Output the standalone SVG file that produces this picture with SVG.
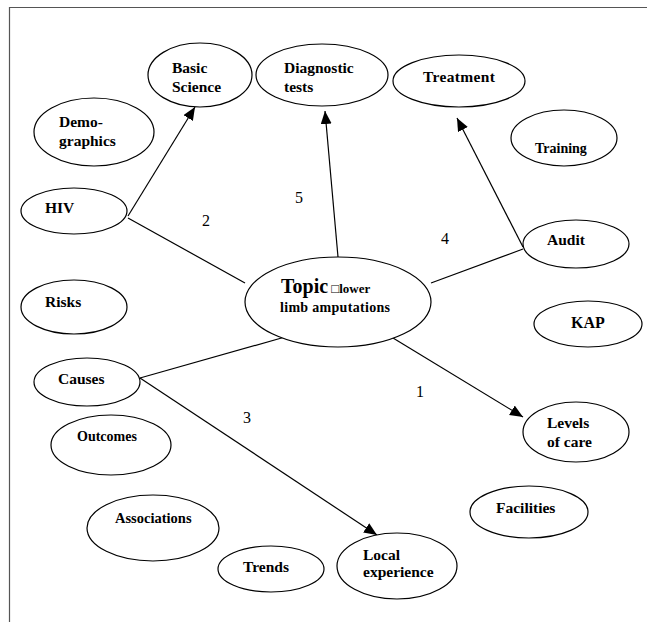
<svg xmlns="http://www.w3.org/2000/svg" width="647" height="622" viewBox="0 0 647 622">
<style>
.n ellipse{fill:#fff;stroke:#000;stroke-width:1.2}
.n text{font-family:"Liberation Serif","Times New Roman",serif;font-weight:bold;font-size:15.5px;fill:#000}
.c line{stroke:#000;stroke-width:1.2}
.num{font-family:"Liberation Serif","Times New Roman",serif;font-size:16px;fill:#000}
</style>
<defs>
<marker id="ah" markerUnits="userSpaceOnUse" markerWidth="14" markerHeight="12" refX="13" refY="5.5" orient="auto">
<path d="M0,0 L13,5.5 L0,11 Z" fill="#000"/>
</marker>
</defs>
<rect width="647" height="622" fill="#fff"/>
<path d="M9.5,622 V7.5 H647" fill="none" stroke="#555" stroke-width="1.2"/>
<g class="c" id="connectors">
<line x1="128" y1="216" x2="195" y2="107" marker-end="url(#ah)"/>
<line x1="128" y1="218" x2="245" y2="283"/>
<line x1="338" y1="257" x2="325" y2="111" marker-end="url(#ah)"/>
<line x1="523" y1="247" x2="457" y2="118" marker-end="url(#ah)"/>
<line x1="431" y1="283" x2="523" y2="249"/>
<line x1="393" y1="338" x2="523" y2="417" marker-end="url(#ah)"/>
<line x1="140" y1="378" x2="285" y2="337"/>
<line x1="140" y1="378" x2="377" y2="535" marker-end="url(#ah)"/>
</g>
<g class="n" id="basic-science"><ellipse cx="200" cy="75" rx="52" ry="32"/><text x="172" y="73">Basic</text><text x="172" y="92">Science</text></g>
<g class="n" id="diagnostic-tests"><ellipse cx="322" cy="75" rx="66" ry="31"/><text x="284" y="73">Diagnostic</text><text x="284" y="92">tests</text></g>
<g class="n" id="treatment"><ellipse cx="459" cy="81" rx="66" ry="26"/><text x="423" y="82" textLength="72">Treatment</text></g>
<g class="n" id="training"><ellipse cx="564" cy="138" rx="53" ry="28"/><text x="535" y="153" style="font-size:14px">Training</text></g>
<g class="n" id="demographics"><ellipse cx="94" cy="132" rx="60" ry="34"/><text x="59" y="127">Demo-</text><text x="59" y="146">graphics</text></g>
<g class="n" id="hiv"><ellipse cx="74" cy="211" rx="53" ry="23"/><text x="45" y="213">HIV</text></g>
<g class="n" id="risks"><ellipse cx="74" cy="307" rx="53" ry="27"/><text x="45" y="307">Risks</text></g>
<g class="n" id="causes"><ellipse cx="87" cy="382" rx="53" ry="24"/><text x="58" y="384">Causes</text></g>
<g class="n" id="topic"><ellipse cx="338" cy="302" rx="93" ry="45"/><text x="281" y="293"><tspan style="font-size:20px">Topic</tspan><tspan style="font-size:13px"> □lower</tspan></text><text x="280" y="312" style="font-size:14px" textLength="110">limb amputations</text></g>
<g class="n" id="audit"><ellipse cx="576" cy="244" rx="53" ry="24"/><text x="547" y="245">Audit</text></g>
<g class="n" id="kap"><ellipse cx="588" cy="324" rx="54" ry="23"/><text x="571" y="328" style="font-size:16px">KAP</text></g>
<g class="n" id="levels-of-care"><ellipse cx="576" cy="432" rx="53" ry="30"/><text x="547" y="428">Levels</text><text x="547" y="447">of care</text></g>
<g class="n" id="facilities"><ellipse cx="529" cy="512" rx="59" ry="26"/><text x="496" y="513">Facilities</text></g>
<g class="n" id="local-experience"><ellipse cx="397" cy="566" rx="60" ry="33"/><text x="363" y="560">Local</text><text x="363" y="577">experience</text></g>
<g class="n" id="trends"><ellipse cx="271" cy="569" rx="53" ry="23"/><text x="243" y="572">Trends</text></g>
<g class="n" id="associations"><ellipse cx="153" cy="528" rx="66" ry="33"/><text x="115" y="523" style="font-size:14.5px">Associations</text></g>
<g class="n" id="outcomes"><ellipse cx="111" cy="445" rx="60" ry="30"/><text x="77" y="441" style="font-size:14px">Outcomes</text></g>
<g id="numbers">
<text class="num" x="202" y="226">2</text>
<text class="num" x="295" y="203">5</text>
<text class="num" x="441" y="244">4</text>
<text class="num" x="416" y="397">1</text>
<text class="num" x="243" y="423">3</text>
</g>
</svg>
